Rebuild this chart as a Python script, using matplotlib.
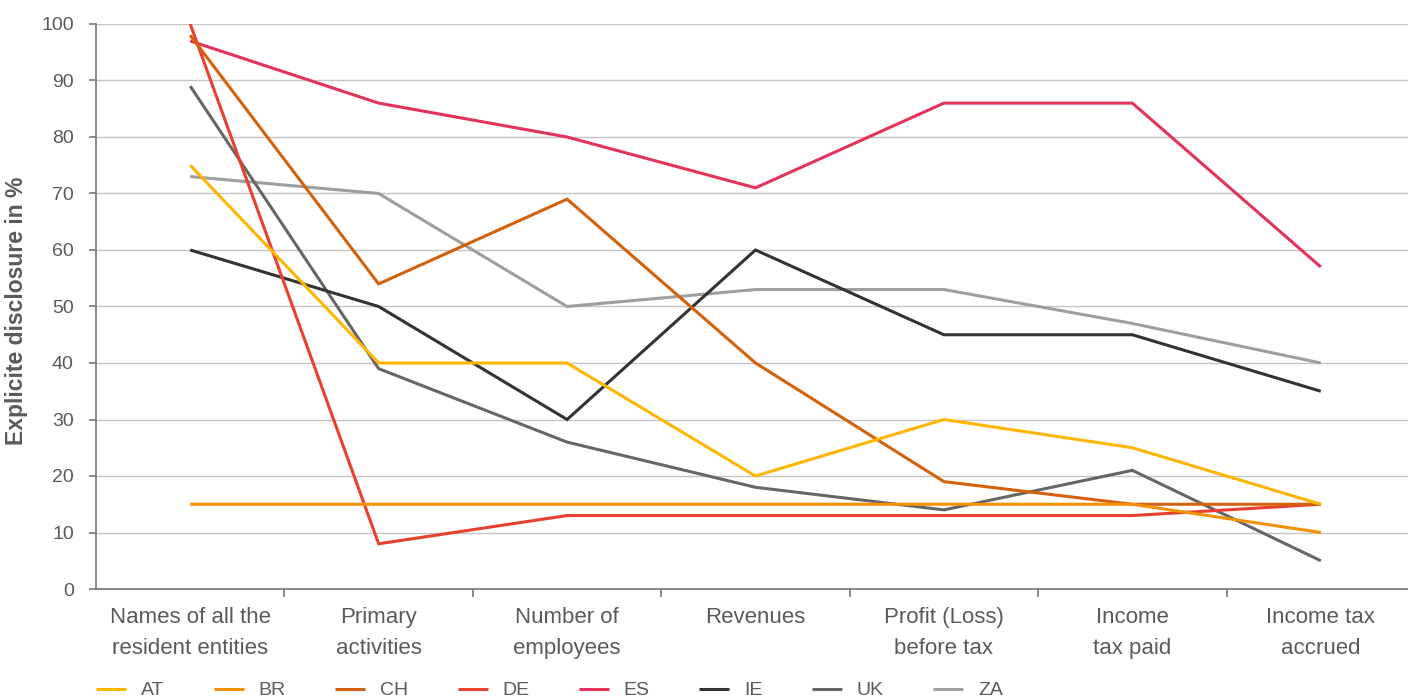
import numpy as np
import matplotlib.pyplot as plt

# categories and series
categories = ["Names of all the\nresident entities", "Primary\nactivities",
              "Number of\nemployees", "Revenues", "Profit (Loss)\nbefore tax",
              "Income\ntax paid", "Income tax\naccrued"]

AT = [75, 40, 40, 20, 30, 25, 15]
BR = [15, 15, 15, 15, 15, 15, 10]
CH = [98, 54, 69, 40, 19, 15, 15]
DE = [100, 8, 13, 13, 13, 13, 15]
ES = [97, 86, 80, 71, 86, 86, 57]
IE = [60, 50, 30, 60, 45, 45, 35]
UK = [89, 39, 26, 18, 14, 21, 5]
ZA = [73, 70, 50, 53, 53, 47, 40]

names = ["AT", "BR", "CH", "DE", "ES", "IE", "UK", "ZA"]
series = [AT, BR, CH, DE, ES, IE, UK, ZA]
colors = ["#ffb600", "#f39200", "#d5600a", "#e8402f", "#e4335b",
          "#333333", "#666666", "#9e9e9e"]

text_col = "#5a5a5a"
plt.rcParams['font.family'] = ['Liberation Sans', 'DejaVu Sans']

fig = plt.figure(figsize=(14.08, 6.99), dpi=100)
ax = fig.add_axes([96 / 1408, 110 / 699, 1319 / 1408, 565 / 699])

x = np.arange(len(categories))
lines = {}
# draw in reverse so AT ends up on top
for name, vals, c in reversed(list(zip(names, series, colors))):
    lines[name], = ax.plot(x, vals, color=c, lw=2.2, solid_joinstyle='miter',
                           solid_capstyle='butt', label=name, zorder=3)

ax.set_xlim(-0.5, 6.5)
ax.set_ylim(0, 100)
ax.set_yticks(np.arange(0, 101, 10))
ax.grid(axis='y', color='#c4c4c4', lw=1, zorder=0)
ax.set_axisbelow(True)

# category labels at centers, tick marks between categories
ax.set_xticks(x)
ax.set_xticklabels(categories, fontsize=16, color=text_col, linespacing=1.65)
ax.tick_params(axis='x', length=0, pad=13)
ax.set_xticks(np.arange(0.5, 6.5, 1), minor=True)
ax.tick_params(axis='x', which='minor', length=6, width=1.2, color='#777777',
               direction='out')
ax.tick_params(axis='y', labelsize=14, labelcolor=text_col, length=5,
               width=1.2, color='#777777', pad=11)

for s in ['top', 'right']:
    ax.spines[s].set_visible(False)
for s in ['left', 'bottom']:
    ax.spines[s].set_color('#777777')
    ax.spines[s].set_linewidth(1.2)

ax.set_ylabel("Explicite disclosure in %", fontsize=16.5, fontweight='bold',
              color=text_col)
ax.yaxis.set_label_coords(-0.0516, 0.492)

handles = [lines[n] for n in names]
fig.legend(handles, names, loc='center left', bbox_to_anchor=(96 / 1408, 0.012),
           ncol=8, frameon=False, fontsize=14, handlelength=1.55,
           handletextpad=0.75, columnspacing=2.55, labelcolor=text_col,
           borderaxespad=0, borderpad=0)

fig.savefig("out.png", dpi=100)
